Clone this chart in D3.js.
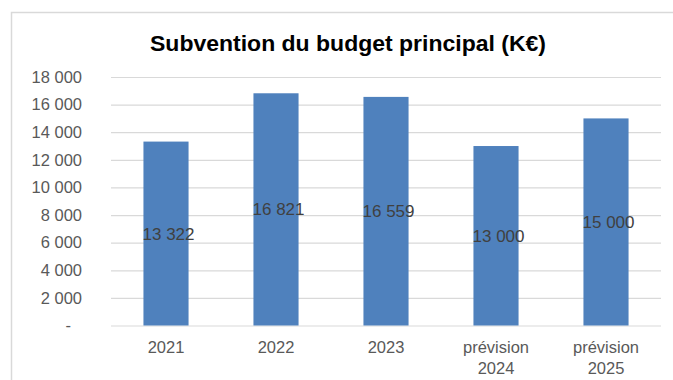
<!DOCTYPE html>
<html>
<head>
<meta charset="utf-8">
<script src="https://cdn.jsdelivr.net/npm/d3@7"></script>
<style>
  html, body { margin: 0; padding: 0; background: #fff; }
  svg { display: block; font-family: "Liberation Sans", Arial, sans-serif; }
</style>
</head>
<body>
<svg id="chart" width="673" height="380"></svg>
<script>
// Subvention du budget principal, en K€
const categories = [["2021"], ["2022"], ["2023"], ["prévision", "2024"], ["prévision", "2025"]];
const values = [13322, 16821, 16559, 13000, 15000];
const yTicks = [0, 2000, 4000, 6000, 8000, 10000, 12000, 14000, 16000, 18000];
const title = "Subvention du budget principal (K€)";

const svg = d3.select("#chart");
const margin = { left: 111, right: 12, top: 77, bottom: 54.5 };
const W = 673, H = 380;

// frame around the chart area
svg.append("rect")
  .attr("x", 11.5).attr("y", 12.5)
  .attr("width", W + 20).attr("height", H + 20)
  .attr("fill", "none").attr("stroke", "#d9d9d9").attr("stroke-width", 1.5);

const keys = categories.map(c => c.join(" "));
const x = d3.scaleBand()
  .domain(keys)
  .range([margin.left, W - margin.right])
  .paddingInner(0.59)
  .paddingOuter(0.295);

const y = d3.scaleLinear()
  .domain([0, 18000])
  .range([H - margin.bottom, margin.top]);

const fmt = v => v === 0 ? "-" : d3.format(",")(v).replace(/,/g, " ");

// gridlines
const grid = svg.append("g")
  .attr("transform", `translate(${margin.left},0)`)
  .call(d3.axisLeft(y).tickValues(yTicks).tickSize(-(W - margin.right - margin.left)).tickFormat(""));
grid.select(".domain").remove();
grid.selectAll(".tick line").attr("stroke", "#d9d9d9").attr("stroke-width", 1.2);

// y-axis labels
const yAxis = svg.append("g")
  .attr("transform", `translate(${margin.left},0)`)
  .call(d3.axisLeft(y).tickValues(yTicks).tickSize(0).tickPadding(29).tickFormat(fmt));
yAxis.select(".domain").remove();
yAxis.selectAll("text")
  .attr("font-size", 16.5)
  .attr("fill", "#595959")
  .attr("font-family", "'Liberation Sans', Arial, sans-serif")
  .each(function(d) { if (d === 0) d3.select(this).attr("dx", -11); });

// bars
svg.append("g").selectAll("rect")
  .data(values)
  .join("rect")
  .attr("x", (d, i) => x(keys[i]))
  .attr("y", d => y(d))
  .attr("width", x.bandwidth())
  .attr("height", d => y(0) - y(d))
  .attr("fill", "#4f81bd");

// value labels, centred in each bar
svg.append("g").selectAll("text")
  .data(values)
  .join("text")
  .attr("x", (d, i) => x(keys[i]) + x.bandwidth() / 2 + 2.5)
  .attr("y", d => (y(d) + y(0)) / 2 + 6)
  .attr("text-anchor", "middle")
  .attr("font-size", 17)
  .attr("fill", "#404040")
  .text(d => fmt(d));

// category labels
const xl = svg.append("g").selectAll("text")
  .data(categories)
  .join("text")
  .attr("x", (d, i) => x(keys[i]) + x.bandwidth() / 2)
  .attr("y", 353)
  .attr("text-anchor", "middle")
  .attr("font-size", 16.5)
  .attr("fill", "#595959");
xl.selectAll("tspan")
  .data(d => d)
  .join("tspan")
  .attr("x", function() { return d3.select(this.parentNode).attr("x"); })
  .attr("dy", (d, i) => i === 0 ? 0 : 21)
  .text(d => d);

// title
svg.append("text")
  .attr("x", 348)
  .attr("y", 51)
  .attr("text-anchor", "middle")
  .attr("font-size", 22)
  .attr("font-weight", "bold")
  .attr("fill", "#000")
  .attr("textLength", 396)
  .attr("lengthAdjust", "spacingAndGlyphs")
  .text(title);
</script>
</body>
</html>
